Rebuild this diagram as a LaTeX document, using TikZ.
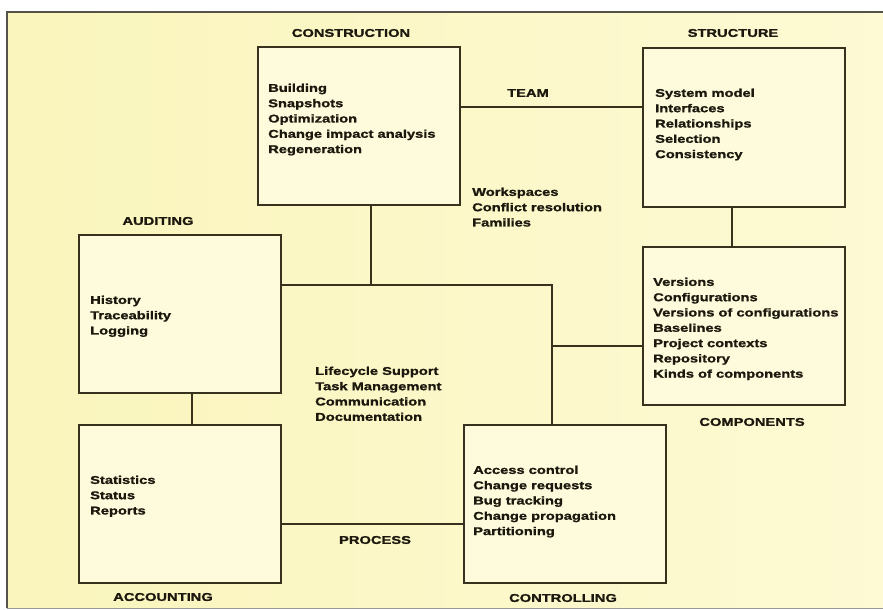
\documentclass[tikz,border=0pt]{standalone}
\usepackage{fontspec}
\newfontfamily\diafont{Liberation Sans}[FakeStretch=1.3, FakeBold=1.3]
\definecolor{paperL}{HTML}{FAF5BC}
\definecolor{paperR}{HTML}{FDFAD4}
\definecolor{boxfill}{HTML}{FDFBDC}
\definecolor{linecol}{HTML}{37311E}
\definecolor{ink}{HTML}{1C180E}
\definecolor{framecol}{HTML}{55524A}
\begin{document}
\begin{tikzpicture}[x=1pt,y=-1pt,
  box/.style={draw=linecol, line width=2pt, fill=boxfill, minimum width=202pt,
    minimum height=158pt, inner sep=0pt},
  title/.style={font=\diafont\bfseries\fontsize{11.3}{14}\selectfont, text=ink, inner sep=0pt},
  items/.style={font=\diafont\bfseries\fontsize{11.3}{15.3}\selectfont, text=ink,
    align=left, anchor=north west, inner sep=0pt},
  link/.style={draw=linecol, line width=2pt}]
\useasboundingbox (0,0) rectangle (883,610);

% page background and frame
\shade[left color=paperL, right color=paperR] (7,12) rectangle (883,608);
\draw[framecol, line width=1.8pt] (7,608) -- (7,12) -- (885,12);
\draw[framecol!60, line width=0.8pt] (7,608) -- (885,608);

% the six areas
\node[box] (cons)  at (358.5,126)   {};
\node[box] (struc) at (743.5,127.5) {};
\node[box] (comp)  at (743.5,325.5) {};
\node[box] (audit) at (179.5,314)   {};
\node[box] (acct)  at (179.5,503.5) {};
\node[box] (ctrl)  at (565,504)     {};

% routing points for the connectors
\coordinate (teamrow) at (0,107);
\coordinate (sccol)   at (732,0);
\coordinate (cj)      at (371,285);
\coordinate (pc)      at (552,285);
\coordinate (cm)      at (552,346);
\coordinate (aacol)   at (192,0);
\coordinate (prow)    at (0,524);

% connectors
\draw[link] (cons.east |- teamrow) -- (struc.west |- teamrow);
\draw[link] (struc.south -| sccol) -- (comp.north -| sccol);
\draw[link] (cons.south -| cj) -- (cj);
\draw[link] (audit.east |- pc) -- (pc) -- (ctrl.north -| pc);
\draw[link] (cm) -- (comp.west |- cm);
\draw[link] (audit.south -| aacol) -- (acct.north -| aacol);
\draw[link] (acct.east |- prow) -- (ctrl.west |- prow);

% headings
\node[title] (tcons)  at (351,33)  {CONSTRUCTION};
\node[title] (tstruc) at (733,33)  {STRUCTURE};
\node[title] (tteam)  at (528,93)  {TEAM};
\node[title] (taud)   at (158,221) {AUDITING};
\node[title] (tcomp)  at (752,422) {COMPONENTS};
\node[title] (tproc)  at (375,540) {PROCESS};
\node[title] (tacct)  at (163,597) {ACCOUNTING};
\node[title] (tctrl)  at (563,598) {CONTROLLING};

% item lists
\node[items] (icons) at (268,83.5) {Building\\Snapshots\\Optimization\\Change impact analysis\\Regeneration};
\node[items] (istruc) at (655,88.5) {System model\\Interfaces\\Relationships\\Selection\\Consistency};
\node[items] (iteam) at (472,187.5) {Workspaces\\Conflict resolution\\Families};
\node[items] (icomp) at (653,277.5) {Versions\\Configurations\\Versions of configurations\\Baselines\\Project contexts\\Repository\\Kinds of components};
\node[items] (iaud) at (90,295.5) {History\\Traceability\\Logging};
\node[items] (iacct) at (90,475.5) {Statistics\\Status\\Reports};
\node[items] (ictrl) at (473,465.5) {Access control\\Change requests\\Bug tracking\\Change propagation\\Partitioning};
\node[items] (iproc) at (315,366.5) {Lifecycle Support\\Task Management\\Communication\\Documentation};
\end{tikzpicture}
\end{document}
